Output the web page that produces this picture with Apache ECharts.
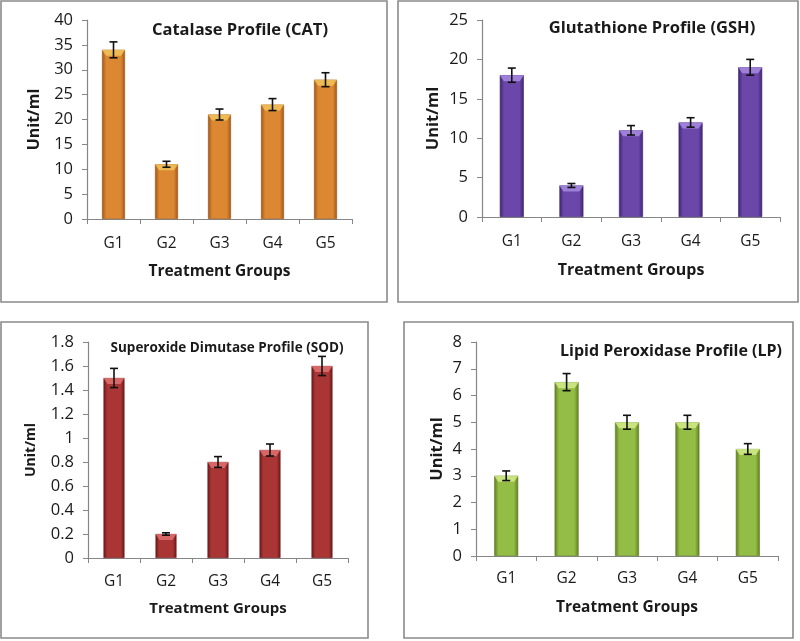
<!DOCTYPE html>
<html>
<head>
<meta charset="utf-8">
<script src="https://cdn.jsdelivr.net/npm/echarts@6/dist/echarts.min.js"></script>
<style>html,body{margin:0;padding:0;background:#fff}#c{width:800px;height:641px}</style>
</head>
<body>
<div id="c"></div>
<script>
const categories = ['G1', 'G2', 'G3', 'G4', 'G5'];

const catTitle = 'Catalase Profile (CAT)';
const catValues = [34, 11, 21, 23, 28];
const catErrors = [1.6, 0.6, 1.1, 1.2, 1.4];
const catTicks = { min: 0, max: 40, interval: 5 };

const gshTitle = 'Glutathione Profile (GSH)';
const gshValues = [18, 4, 11, 12, 19];
const gshErrors = [0.9, 0.25, 0.6, 0.6, 1.0];
const gshTicks = { min: 0, max: 25, interval: 5 };

const sodTitle = 'Superoxide Dimutase Profile (SOD)';
const sodValues = [1.5, 0.2, 0.8, 0.9, 1.6];
const sodErrors = [0.08, 0.01, 0.045, 0.05, 0.08];
const sodTicks = { min: 0, max: 1.8, interval: 0.2 };

const lpTitle = 'Lipid Peroxidase Profile (LP)';
const lpValues = [3, 6.5, 5, 5, 4];
const lpErrors = [0.18, 0.32, 0.26, 0.26, 0.2];
const lpTicks = { min: 0, max: 8, interval: 1 };

const yAxisName = 'Unit/ml';
const xAxisName = 'Treatment Groups';

const FONT = 'Open Sans';

const panels = [
  { title: catTitle, values: catValues, errors: catErrors, ticks: catTicks,
    grid: { left: 87, top: 20, width: 265, height: 199 },
    titlePos: { x: 235, y: 17, size: 16.5 }, yNameSize: 16, yNameGap: 45, xNameGap: 45, xNameSize: 15.5, xLabelMargin: 17,
    colors: ['#9c5518', '#dc8731', '#f2c35a'], border: { x: 1, y: 1, w: 386, h: 301 }, barW: 23, fmt: v => String(v) },
  { title: gshTitle, values: gshValues, errors: gshErrors, ticks: gshTicks,
    grid: { left: 482, top: 20, width: 298, height: 197 },
    titlePos: { x: 647, y: 15, size: 16.5 }, yNameSize: 16.5, yNameGap: 40, xNameGap: 45, xNameSize: 16, xLabelMargin: 17,
    colors: ['#3e2470', '#6a47a8', '#a78be0'], border: { x: 398, y: 1, w: 400, h: 301 }, barW: 24, fmt: v => String(v) },
  { title: sodTitle, values: sodValues, errors: sodErrors, ticks: sodTicks,
    grid: { left: 88, top: 342, width: 260, height: 216 },
    titlePos: { x: 222, y: 336, size: 13.5 }, yNameSize: 14, yNameGap: 50, xNameGap: 43, xNameSize: 15, xLabelMargin: 16,
    colors: ['#6a1818', '#a93535', '#e07070'], border: { x: 1, y: 322, w: 367, h: 316 }, barW: 21,
    fmt: v => (Math.round(v * 10) / 10).toString() },
  { title: lpTitle, values: lpValues, errors: lpErrors, ticks: lpTicks,
    grid: { left: 476, top: 342, width: 302, height: 214 },
    titlePos: { x: 666, y: 338, size: 16 }, yNameSize: 16.5, yNameGap: 30, xNameGap: 44, xNameSize: 15.5, xLabelMargin: 15,
    colors: ['#5f7d22', '#93bd45', '#d2eb88'], border: { x: 404, y: 322, w: 389, h: 316 }, barW: 24, fmt: v => String(v) }
];

const option = {
  backgroundColor: '#ffffff',
  animation: false,
  title: [],
  grid: [],
  xAxis: [],
  yAxis: [],
  series: [],
  graphic: []
};

panels.forEach((p, i) => {
  option.graphic.push({
    type: 'rect', z: 0, silent: true,
    shape: { x: p.border.x, y: p.border.y, width: p.border.w, height: p.border.h },
    style: { fill: '#ffffff', stroke: '#8a8a8a', lineWidth: 1.6 }
  });
  option.title.push({
    text: p.title, left: p.titlePos.x, top: p.titlePos.y, textAlign: 'center',
    textStyle: { fontFamily: FONT, fontWeight: 'bold', fontSize: p.titlePos.size, color: '#1a1a1a' }
  });
  option.grid.push(Object.assign({ containLabel: false }, p.grid));
  option.xAxis.push({
    type: 'category', gridIndex: i, data: categories,
    name: xAxisName, nameLocation: 'middle', nameGap: p.xNameGap,
    nameTextStyle: { fontFamily: FONT, fontWeight: 'bold', fontSize: p.xNameSize, color: '#1a1a1a' },
    axisLine: { lineStyle: { color: '#868686', width: 1.2 } },
    axisTick: { show: true, alignWithLabel: false, length: 5, lineStyle: { color: '#868686' } },
    axisLabel: { fontFamily: FONT, fontSize: 15.5, color: '#1a1a1a', margin: p.xLabelMargin },
    splitLine: { show: false }
  });
  option.yAxis.push({
    type: 'value', gridIndex: i, min: p.ticks.min, max: p.ticks.max, interval: p.ticks.interval,
    name: yAxisName, nameLocation: 'middle', nameGap: p.yNameGap, nameRotate: 90,
    nameTextStyle: { fontFamily: FONT, fontWeight: 'bold', fontSize: p.yNameSize, color: '#1a1a1a' },
    axisLine: { show: true, lineStyle: { color: '#868686', width: 1.2 } },
    axisTick: { show: true, length: 5, lineStyle: { color: '#868686' } },
    axisLabel: { fontFamily: FONT, fontSize: 16.5, color: '#1a1a1a', margin: 14, formatter: p.fmt },
    splitLine: { show: false }
  });
  option.series.push({
    type: 'bar', xAxisIndex: i, yAxisIndex: i, data: p.values, barWidth: p.barW, z: 2,
    itemStyle: {
      borderColor: p.colors[0], borderWidth: 0.6,
      color: {
        type: 'linear', x: 0, y: 0, x2: 1, y2: 0,
        colorStops: [
          { offset: 0, color: p.colors[0] },
          { offset: 0.18, color: p.colors[1] },
          { offset: 0.5, color: p.colors[1] },
          { offset: 0.82, color: p.colors[1] },
          { offset: 1, color: p.colors[0] }
        ]
      }
    }
  });
  const capColor = p.colors[2];
  const barW = p.barW;
  option.series.push({
    type: 'custom', xAxisIndex: i, yAxisIndex: i, data: p.values.map((v, k) => [k, v]), z: 3,
    renderItem: function (params, api) {
      const pt = api.coord([api.value(0), api.value(1)]);
      const hw = barW / 2;
      const h = Math.min(6, api.size([0, api.value(1)])[1]);
      return {
        type: 'polygon',
        shape: { points: [[pt[0] - hw, pt[1]], [pt[0] + hw, pt[1]], [pt[0] + hw - 4, pt[1] + h], [pt[0] - hw + 4, pt[1] + h]] },
        style: { fill: capColor, opacity: 0.85 }
      };
    }
  });
  const errData = p.values.map((v, k) => [k, v, p.errors[k]]);
  option.series.push({
    type: 'custom', xAxisIndex: i, yAxisIndex: i, data: errData, z: 5,
    renderItem: function (params, api) {
      const x = api.value(0), v = api.value(1), e = api.value(2);
      const top = api.coord([x, v + e]);
      const bot = api.coord([x, v - e]);
      const hw = 4;
      const st = { stroke: '#111111', lineWidth: 1.6 };
      return {
        type: 'group',
        children: [
          { type: 'line', shape: { x1: top[0], y1: top[1], x2: bot[0], y2: bot[1] }, style: st },
          { type: 'line', shape: { x1: top[0] - hw, y1: top[1], x2: top[0] + hw, y2: top[1] }, style: st },
          { type: 'line', shape: { x1: bot[0] - hw, y1: bot[1], x2: bot[0] + hw, y2: bot[1] }, style: st }
        ]
      };
    }
  });
});

const chart = echarts.init(document.getElementById('c'), null, { renderer: 'canvas' });
chart.setOption(option);
</script>
</body>
</html>
